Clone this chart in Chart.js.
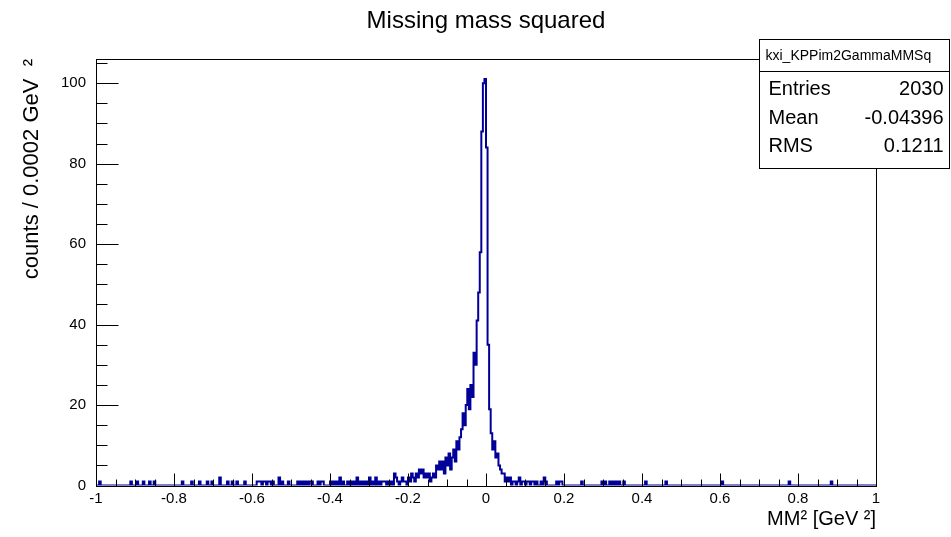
<!DOCTYPE html>
<html>
<head>
<meta charset="utf-8">
<title>Missing mass squared</title>
<script src="https://cdn.jsdelivr.net/npm/chart.js@4.4.1/dist/chart.umd.min.js"></script>
<style>
  html, body { margin: 0; padding: 0; background: #fff; }
  #wrap { width: 951px; height: 537px; }
</style>
</head>
<body>
<div id="wrap"><canvas id="mm2" width="951" height="537"></canvas></div>
<script>
// Histogram binning
const xMin = -1;
const xMax = 1;
const binWidth = 0.004;

// Counts around the peak, one per bin, first bin starts at coreStart
const coreStart = -0.260;
const coreCounts = [
    1, 0, 1, 0, 1, 0, 3, 2, 1, 0,
    1, 2, 1, 1, 0, 2, 1, 3, 2, 1,
    3, 2, 4, 3, 4, 2, 3, 2, 3, 1,
    2, 3, 2, 5, 4, 6, 4, 6, 3, 7,
    5, 8, 4, 7, 9, 6, 11, 9, 12, 14,
    18, 15, 20, 24, 19, 25, 22, 33, 30, 41,
    48, 58, 88, 100, 101, 84, 35, 19, 13, 9,
    11, 7, 8, 5, 4, 3, 3, 1, 2, 1,
    2, 0, 1, 1, 0, 1, 2, 0, 1, 1,
    0, 1, 1, 0, 1, 1, 0, 1
];

// Isolated bins out in the tails: bin low edge, counts
const tailEdges = [
    -0.992, -0.912, -0.896, -0.880, -0.864, -0.852, -0.780, -0.756, -0.736, -0.716,
    -0.704, -0.684, -0.664, -0.652, -0.640, -0.620, -0.588, -0.584, -0.580, -0.572,
    -0.568, -0.560, -0.556, -0.548, -0.532, -0.524, -0.508, -0.484, -0.476, -0.468,
    -0.460, -0.452, -0.448, -0.432, -0.424, -0.420, -0.400, -0.392, -0.384, -0.376,
    -0.368, -0.356, -0.348, -0.340, -0.332, -0.324, -0.316, -0.308, -0.300, -0.292,
    -0.284, -0.276, -0.268, -0.264,
    0.140, 0.148, 0.152, 0.180, 0.188, 0.192, 0.244, 0.296, 0.304, 0.316,
    0.324, 0.332, 0.340, 0.352, 0.408, 0.460, 0.604, 0.776, 0.884
];
const tailCounts = [
    1, 1, 1, 1, 1, 1, 1, 1, 1, 1,
    1, 2, 1, 1, 1, 1, 1, 1, 1, 1,
    1, 1, 1, 1, 2, 1, 1, 1, 1, 1,
    1, 1, 1, 1, 1, 1, 1, 1, 1, 2,
    1, 1, 1, 1, 2, 1, 1, 1, 2, 1,
    2, 1, 1, 1,
    1, 2, 1, 1, 1, 1, 1, 1, 1, 1,
    1, 1, 1, 1, 1, 1, 1, 1, 1
];

// Axes
const xTickValues = [-1, -0.8, -0.6, -0.4, -0.2, 0, 0.2, 0.4, 0.6, 0.8, 1];
const xTickLabels = ['-1', '-0.8', '-0.6', '-0.4', '-0.2', '0', '0.2', '0.4', '0.6', '0.8', '1'];
const yTickValues = [0, 20, 40, 60, 80, 100];
const yTickLabels = ['0', '20', '40', '60', '80', '100'];
const yMax = 106;

// Stats box
const histName = 'kxi_KPPim2GammaMMSq';
const statNames = ['Entries', 'Mean', 'RMS'];
const statValues = ['2030', '-0.04396', '0.1211'];

// Build bin contents
const nBins = Math.round((xMax - xMin) / binWidth);
const counts = new Array(nBins).fill(0);
const coreIndex = Math.round((coreStart - xMin) / binWidth);
coreCounts.forEach((c, i) => { counts[coreIndex + i] = c; });
tailEdges.forEach((e, i) => { counts[Math.round((e - xMin) / binWidth)] = tailCounts[i]; });

const points = counts.map((c, i) => ({ x: xMin + i * binWidth, y: c }));
points.push({ x: xMax, y: counts[nBins - 1] });

const FONT = "'Liberation Sans', Arial, Helvetica, sans-serif";
Chart.defaults.font.family = FONT;
Chart.defaults.color = '#000';

// Frame, inner ticks and stats box (ROOT style)
const rootFrame = {
    id: 'rootFrame',
    afterDatasetsDraw(chart) {
        const { ctx, chartArea: a, scales: { x, y } } = chart;
        const left = Math.round(a.left) + 0.5;
        const bottom = Math.round(a.bottom) + 0.5;
        ctx.save();
        ctx.strokeStyle = '#000';
        ctx.lineWidth = 1;
        ctx.beginPath();
        for (let v = -1; v <= 1.0001; v += 0.05) {
            const px = Math.round(x.getPixelForValue(v)) + 0.5;
            const major = Math.abs(v * 5 - Math.round(v * 5)) < 1e-6;
            ctx.moveTo(px, bottom);
            ctx.lineTo(px, bottom - (major ? 13 : 7));
        }
        for (let v = 0; v <= yMax; v += 5) {
            const py = Math.round(y.getPixelForValue(v)) + 0.5;
            const major = v % 20 === 0;
            ctx.moveTo(left, py);
            ctx.lineTo(left + (major ? 22 : 11), py);
        }
        ctx.stroke();
        ctx.strokeRect(left, Math.round(a.top) + 0.5,
            Math.round(a.right) - Math.round(a.left), Math.round(a.bottom) - Math.round(a.top));
        ctx.restore();
    },
    afterDraw(chart) {
        const ctx = chart.ctx;
        const bx = 759.5, by = 39.5, bw = 190, bh = 129, head = 32;
        ctx.save();
        ctx.fillStyle = '#fff';
        ctx.fillRect(bx, by, bw, bh);
        ctx.strokeStyle = '#000';
        ctx.lineWidth = 1;
        ctx.strokeRect(bx, by, bw, bh);
        ctx.beginPath();
        ctx.moveTo(bx, by + head);
        ctx.lineTo(bx + bw, by + head);
        ctx.stroke();
        ctx.fillStyle = '#000';
        ctx.textBaseline = 'middle';
        ctx.font = '14px ' + FONT;
        ctx.textAlign = 'left';
        ctx.fillText(histName, bx + 6, by + 17);
        ctx.font = '20px ' + FONT;
        statNames.forEach((name, i) => {
            const ty = by + 50 + i * 28.7;
            ctx.textAlign = 'left';
            ctx.fillText(name, bx + 9, ty);
            ctx.textAlign = 'right';
            ctx.fillText(statValues[i], bx + bw - 6, ty);
        });
        ctx.restore();
    }
};

new Chart(document.getElementById('mm2'), {
    type: 'line',
    data: {
        datasets: [{
            data: points,
            borderColor: '#000099',
            borderWidth: 2,
            pointRadius: 0,
            stepped: true,
            fill: false
        }]
    },
    options: {
        responsive: false,
        animation: false,
        devicePixelRatio: 1,
        layout: { padding: { top: 0, right: 75, bottom: 0, left: 0 } },
        plugins: {
            legend: { display: false },
            tooltip: { enabled: false },
            title: {
                display: true,
                fullSize: false,
                text: 'Missing mass squared',
                color: '#000',
                font: { size: 24, weight: 'normal' },
                padding: { top: 7, bottom: 23.2 }
            }
        },
        scales: {
            x: {
                type: 'linear',
                min: xMin,
                max: xMax,
                grid: { display: false, drawTicks: false, tickLength: 0 },
                border: { display: false },
                afterBuildTicks: scale => { scale.ticks = xTickValues.map(v => ({ value: v })); },
                afterFit: scale => { scale.height = 51.4; },
                ticks: {
                    padding: 4,
                    maxRotation: 0,
                    font: { size: 15 },
                    callback: (v, i) => xTickLabels[i]
                },
                title: {
                    display: true,
                    text: 'MM² [GeV ²]',
                    align: 'end',
                    font: { size: 20 },
                    padding: { top: 0, bottom: 6 }
                }
            },
            y: {
                min: 0,
                max: yMax,
                grid: { display: false, drawTicks: false, tickLength: 0 },
                border: { display: false },
                afterBuildTicks: scale => { scale.ticks = yTickValues.map(v => ({ value: v })); },
                afterFit: scale => { scale.width = 96; },
                ticks: {
                    padding: 10,
                    font: { size: 15 },
                    callback: (v, i) => yTickLabels[i]
                },
                title: {
                    display: true,
                    text: 'counts / 0.0002 GeV  ²',
                    align: 'end',
                    font: { size: 22 },
                    padding: { top: 19, bottom: 0 }
                }
            }
        }
    },
    plugins: [rootFrame]
});
</script>
</body>
</html>
